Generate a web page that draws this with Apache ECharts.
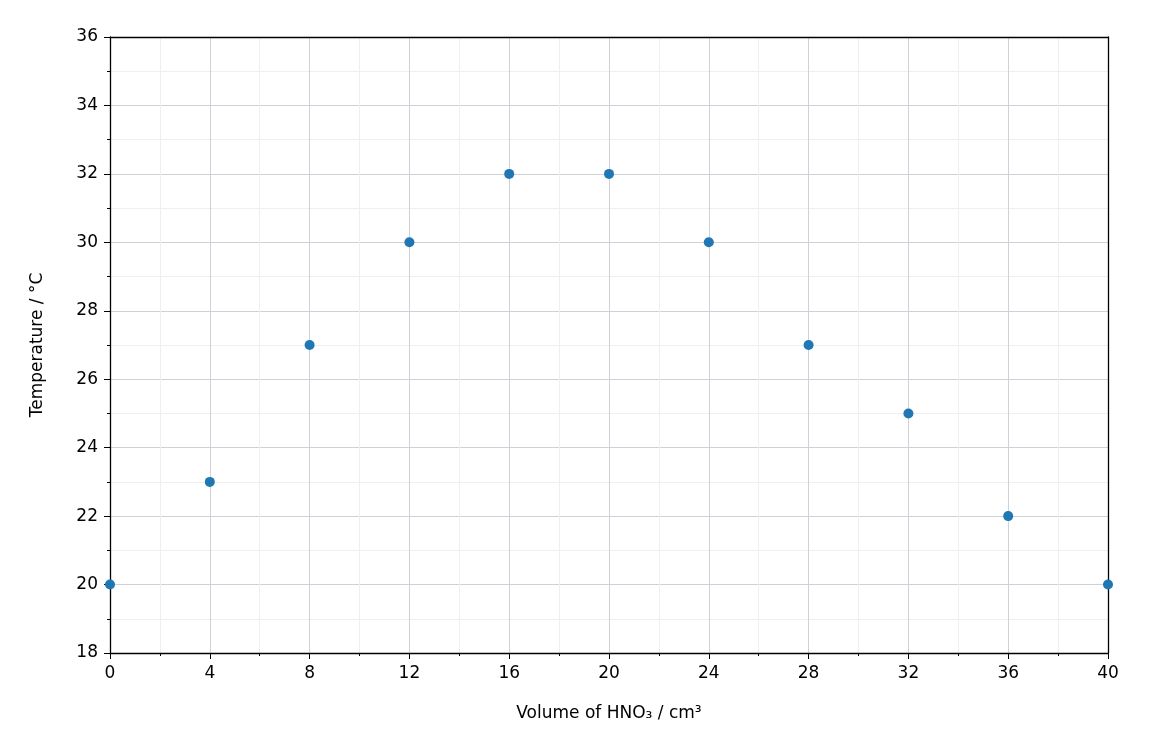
<!DOCTYPE html>
<html><head><meta charset="utf-8">
<script src="https://cdn.jsdelivr.net/npm/echarts@6/dist/echarts.min.js"></script>
<style>html,body{margin:0;padding:0;background:#fff}#c{width:1152px;height:756px}</style>
</head><body><div id="c"></div>
<script>
const volumes = [0, 4, 8, 12, 16, 20, 24, 28, 32, 36, 40];
const temps = [20, 23, 27, 30, 32, 32, 30, 27, 25, 22, 20];
const chart = echarts.init(document.getElementById('c'));
const font = 'DejaVu Sans';
const frame = {show: true, onZero: false, lineStyle: {color: '#000', width: 1.3}};
chart.setOption({
  animation: false,
  grid: {left: 110, right: 44, top: 37, bottom: 103},
  xAxis: [{
    type: 'value', min: 0, max: 40, interval: 4,
    name: 'Volume of HNO₃ / cm³', nameLocation: 'middle', nameGap: 52,
    nameTextStyle: {fontFamily: font, fontSize: 17, color: '#000'},
    axisLine: frame,
    axisTick: {show: true, inside: false, length: 6, lineStyle: {color: '#000'}},
    minorTick: {show: true, splitNumber: 2, length: 3, lineStyle: {color: '#000'}},
    axisLabel: {fontFamily: font, fontSize: 17, color: '#000', margin: 12},
    splitLine: {show: true, lineStyle: {color: '#d0d0d8', width: 1}},
    minorSplitLine: {show: true, lineStyle: {color: '#efeff2', width: 1}}
  }, {
    type: 'value', position: 'top', min: 0, max: 40,
    axisLine: frame, axisTick: {show: false}, axisLabel: {show: false}, splitLine: {show: false}
  }],
  yAxis: [{
    type: 'value', min: 18, max: 36, interval: 2,
    name: 'Temperature / °C', nameLocation: 'middle', nameGap: 64,
    nameTextStyle: {fontFamily: font, fontSize: 17, color: '#000'},
    axisLine: frame,
    axisTick: {show: true, inside: false, length: 6, lineStyle: {color: '#000'}},
    minorTick: {show: true, splitNumber: 2, length: 3, lineStyle: {color: '#000'}},
    axisLabel: {fontFamily: font, fontSize: 17, color: '#000', margin: 12},
    splitLine: {show: true, lineStyle: {color: '#d0d0d8', width: 1}},
    minorSplitLine: {show: true, lineStyle: {color: '#efeff2', width: 1}}
  }, {
    type: 'value', position: 'right', min: 18, max: 36,
    axisLine: frame, axisTick: {show: false}, axisLabel: {show: false}, splitLine: {show: false}
  }],
  series: [{
    type: 'scatter', symbolSize: 10, itemStyle: {color: '#1f77b4', opacity: 1},
    data: volumes.map((v, i) => [v, temps[i]]), clip: false
  }]
});
</script></body></html>
